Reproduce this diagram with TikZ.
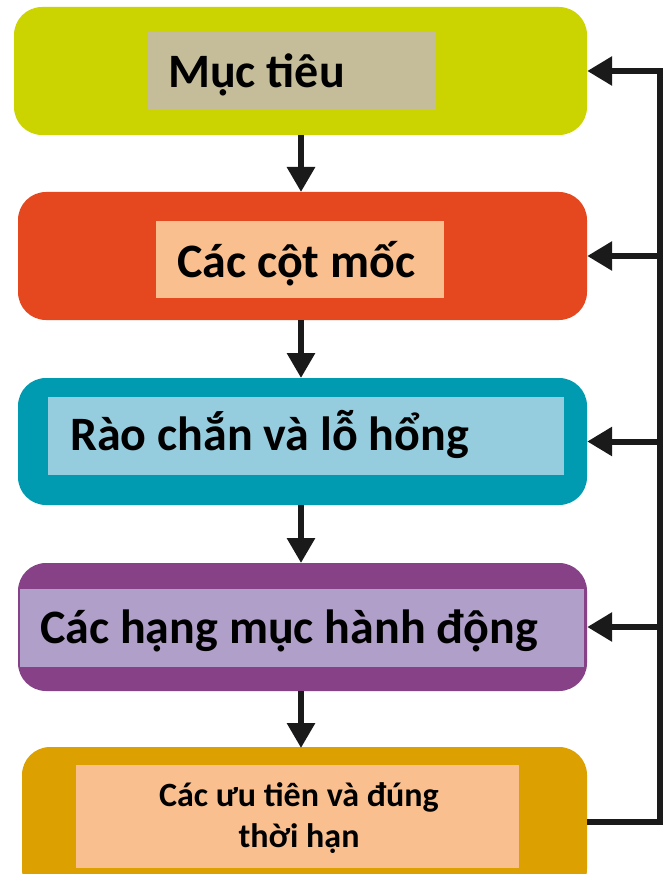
\documentclass[tikz,border=0pt]{standalone}
\usepackage{fontspec}
\setmainfont{Carlito}
\usetikzlibrary{arrows.meta}

\definecolor{limeC}{RGB}{203,212,0}
\definecolor{tanC}{RGB}{197,189,153}
\definecolor{redC}{RGB}{229,71,31}
\definecolor{peachC}{RGB}{249,191,143}
\definecolor{tealC}{RGB}{0,155,176}
\definecolor{skyC}{RGB}{150,205,222}
\definecolor{plumC}{RGB}{135,65,135}
\definecolor{lilacC}{RGB}{176,159,200}
\definecolor{goldC}{RGB}{220,160,0}
\definecolor{inkC}{RGB}{26,26,26}

\tikzset{
  stage/.style={rounded corners=28pt, inner sep=0pt, draw=none},
  label/.style={inner sep=0pt, draw=none},
  word/.style={inner sep=0pt, font=\fontsize{48}{52}\selectfont\bfseries, text=black},
  flow/.style={draw=inkC, line width=6pt, -{Triangle[length=25pt,width=27pt]}},
  back/.style={draw=inkC, line width=6pt, miter limit=10, -{Triangle[length=25pt,width=28pt]}},
  wire/.style={draw=inkC, line width=6pt}
}

\begin{document}
\begin{tikzpicture}[x=1pt,y=-1pt]
\useasboundingbox (0,0) rectangle (666,874);
\clip (0,0) rectangle (666,874);

% stages
\fill[limeC, rounded corners=28pt] (14,7) rectangle (587,135);
\node[stage, minimum width=573pt, minimum height=128pt] (b1) at (300.5,71) {};
\fill[tanC] (148,32) rectangle (436,110);
\node[label, minimum width=288pt, minimum height=78pt] (l1) at (292,71) {};
\node[word, anchor=base west] (t1) at (168,88) {Mục tiêu};

\fill[redC, rounded corners=28pt] (18,192) rectangle (587,320);
\node[stage, minimum width=569pt, minimum height=128pt] (b2) at (302.5,256) {};
\fill[peachC] (156,221) rectangle (444,298);
\node[label, minimum width=288pt, minimum height=77pt] (l2) at (300,259.5) {};
\node[word, anchor=base west] (t2) at (177,277) {Các cột mốc};

\fill[tealC, rounded corners=28pt] (18,378) rectangle (587,505);
\node[stage, minimum width=569pt, minimum height=127pt] (b3) at (302.5,441.5) {};
\fill[skyC] (48,397) rectangle (564,475);
\node[label, minimum width=516pt, minimum height=78pt] (l3) at (306,436) {};
\node[word, anchor=base west] (t3) at (70,450) {Rào chắn và lỗ hổng};

\fill[plumC, rounded corners=28pt] (18,563) rectangle (587,691);
\node[stage, minimum width=569pt, minimum height=128pt] (b4) at (302.5,627) {};
\fill[lilacC] (20,589) rectangle (584,667);
\node[label, minimum width=564pt, minimum height=78pt] (l4) at (302,628) {};
\node[word, anchor=base west] (t4) at (40,643) {Các hạng mục hành động};

\fill[goldC, rounded corners=28pt] (22,747) rectangle (587,897);
\node[stage, minimum width=565pt, minimum height=150pt] (b5) at (304.5,822) {};
\fill[peachC] (76,765) rectangle (519,868);
\node[label, minimum width=443pt, minimum height=103pt] (l5) at (297.5,816.5) {};
\node[inner sep=0pt, anchor=center, align=center, font=\fontsize{34}{41}\selectfont\bfseries]
  (t5) at (299,818) {Các ưu tiên và đúng\\thời hạn};

% downward flow
\draw[flow] (301,135) -- (301,192);
\draw[flow] (301,320) -- (301,378);
\draw[flow] (301,505) -- (301,563);
\draw[flow] (301,691) -- (301,748);

% feedback loop on the right
\coordinate (rt) at (660,0);
\draw[back] (b5.east) -- (rt |- b5.east) -- (rt |- b1.east) -- (b1.east);
\draw[back] (rt |- b2.east) -- (b2.east);
\draw[back] (rt |- b3.east) -- (b3.east);
\draw[back] (rt |- b4.east) -- (b4.east);
\end{tikzpicture}
\end{document}
